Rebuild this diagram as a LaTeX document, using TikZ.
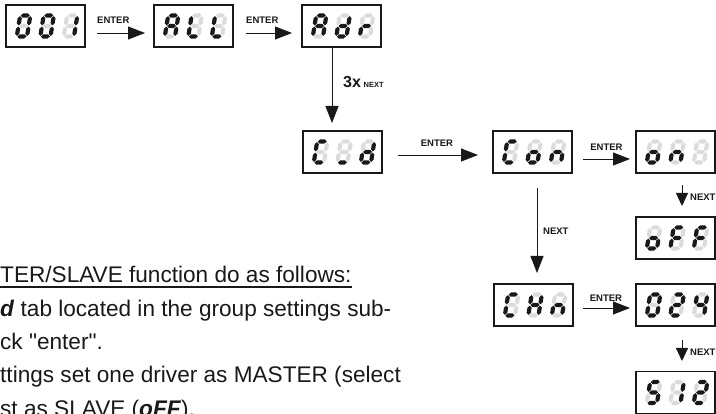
\documentclass[tikz,border=0pt]{standalone}
\usepackage{fontspec}
\setmainfont{Liberation Sans}
\usetikzlibrary{arrows.meta,calc}
\definecolor{segoff}{gray}{0.86}
\definecolor{ink}{gray}{0.1}
\def\sW{10.2}\def\sM{10.5}\def\st{2.1}\def\sg{0.6}
\newcommand\hseg[2]{\fill[seg#2] (\sg,#1) -- (\sg+\st,#1+\st) -- (\sW-\sg-\st,#1+\st) -- (\sW-\sg,#1) -- (\sW-\sg-\st,#1-\st) -- (\sg+\st,#1-\st) -- cycle;}
\newcommand\vseg[3]{\fill[seg#3] (#1,#2+\sg) -- (#1+\st,#2+\sg+\st) -- (#1+\st,#2+\sM-\sg-\st) -- (#1,#2+\sM-\sg) -- (#1-\st,#2+\sM-\sg-\st) -- (#1-\st,#2+\sg+\st) -- cycle;}
\def\drawsegs#1#2#3#4#5#6#7\relax#8{%
  \begin{scope}[shift={#8}, yscale=-1, xslant=-0.16]
    \hseg{2*\sM}{#1}%
    \vseg{\sW}{\sM}{#2}%
    \vseg{\sW}{0}{#3}%
    \hseg{0}{#4}%
    \vseg{0}{0}{#5}%
    \vseg{0}{\sM}{#6}%
    \hseg{\sM}{#7}%
  \end{scope}}
\newcommand\digitat[2]{\expandafter\drawsegs#2\relax{#1}}
\newcommand\showdisp[4]{%
  \digitat{($(#1.west)+(10.8,10.5)$)}{#2}%
  \digitat{($(#1.west)+(34.3,10.5)$)}{#3}%
  \digitat{($(#1.west)+(57.8,10.5)$)}{#4}}
\newcommand\dq{{\XeTeXglyph\XeTeXcharglyph"22\relax}}
\def\cZero{1111110}
\def\cOne{0110000}
\def\cTwo{1101101}
\def\cFour{0110011}
\def\cFive{1011011}
\def\cA{1110111}
\def\cL{0001110}
\def\cd{0111101}
\def\cr{0000101}
\def\cC{1001110}
\def\cUnd{0001000}
\def\co{0011101}
\def\cn{0010101}
\def\cBlank{0000000}
\def\cF{1000111}
\def\cH{0110111}
\begin{document}
\begin{tikzpicture}[x=1pt,y=-1pt,
  lcd/.style={draw=ink, line width=1.3pt, minimum width=79pt, minimum height=42pt, inner sep=0pt, outer sep=0pt},
  arr/.style={draw=ink, line width=0.9pt, -{Triangle[length=17pt,width=13pt]}},
  sarr/.style={draw=ink, line width=0.9pt, -{Triangle[length=13pt,width=12pt]}},
  lbl/.style={font=\fontsize{9.5}{11}\selectfont\bfseries, text=ink, inner sep=0pt},
  txt/.style={font=\fontsize{22.6}{27}\selectfont, text=ink, inner sep=0pt, anchor=base west},
  seg1/.style={fill=ink}, seg0/.style={fill=segoff}]
\useasboundingbox (0,0) rectangle (716,414);
\clip (0,0) rectangle (716,414);
% display boxes
\node[lcd] (b1) at (45.5,26) {};
\node[lcd] (b2) at (193.5,26) {};
\node[lcd] (b3) at (341.5,26) {};
\node[lcd] (b4) at (342.5,152) {};
\node[lcd] (b5) at (532.5,152) {};
\node[lcd] (b6) at (675.5,152) {};
\node[lcd] (b7) at (675.5,238) {};
\node[lcd] (b8) at (533.5,305) {};
\node[lcd] (b9) at (675.5,305) {};
\node[lcd] (b10) at (675.5,392.5) {};
% digits
\showdisp{b1}{\cZero}{\cZero}{\cOne}
\showdisp{b2}{\cA}{\cL}{\cL}
\showdisp{b3}{\cA}{\cd}{\cr}
\showdisp{b4}{\cC}{\cUnd}{\cd}
\showdisp{b5}{\cC}{\co}{\cn}
\showdisp{b6}{\co}{\cn}{\cBlank}
\showdisp{b7}{\co}{\cF}{\cF}
\showdisp{b8}{\cC}{\cH}{\cn}
\showdisp{b9}{\cZero}{\cTwo}{\cFour}
\showdisp{b10}{\cFive}{\cOne}{\cTwo}
% connectors
\draw[arr] ($(b1.east)+(12,7)$) -- ($(b2.west)+(-9,7)$);
\draw[arr] ($(b2.east)+(13,7)$) -- ($(b3.west)+(-10,7)$);
\draw[arr] ($(b3.south)+(-9.5,0)$) -- ($(b4.north)+(-10.5,-8)$);
\draw[arr] ($(b4.east)+(16,3)$) -- ($(b5.west)+(-15,3)$);
\draw[arr] ($(b5.east)+(11,7)$) -- ($(b6.west)+(-6,7)$);
\draw[arr] ($(b5.south)+(4.5,15)$) -- ($(b8.north)+(3.5,-11)$);
\draw[sarr] ($(b6.south)+(6.5,12)$) -- ($(b7.north)+(6.5,-11)$);
\draw[arr] ($(b8.east)+(10,3)$) -- ($(b9.west)+(-6,3)$);
\draw[sarr] ($(b9.south)+(6.5,14)$) -- ($(b10.north)+(6.5,-10.5)$);
% labels
\node[lbl, anchor=base west] (l1) at (97,23.5) {ENTER};
\node[lbl, anchor=base west] (l2) at (246,23.5) {ENTER};
\node[lbl, anchor=base west] (l3) at (343,88) {\fontsize{16}{18}\selectfont 3x\,\fontsize{7.5}{9}\selectfont NEXT};
\node[lbl, anchor=base] (l4) at (437,146.5) {ENTER};
\node[lbl, anchor=base] (l5) at (606.5,150.5) {ENTER};
\node[lbl, anchor=base] (l6) at (606,301.5) {ENTER};
\node[lbl, anchor=base west] (l7) at (543,234.5) {NEXT};
\node[lbl, anchor=base west] (l8) at (690,200.5) {NEXT};
\node[lbl, anchor=base west] (l9) at (690,355.5) {NEXT};
% text
\node[txt] (t1) at (0,283) {TER/SLAVE function do as follows:};
\draw[ink, line width=1.2pt] ([yshift=-4pt]t1.base west) -- ([yshift=-4pt]t1.base east);
\node[txt] (t2) at (0,316.5) {\textbf{\textit{d}} tab located in the group settings sub-};
\node[txt] (t3) at (0,350) {ck \dq enter\dq .};
\node[txt] (t4) at (0,383) {ttings set one driver as MASTER (select};
\node[txt] (t5) at (0,416.5) {st as SLAVE (\textbf{\textit{oFF}}).};
\end{tikzpicture}
\end{document}
